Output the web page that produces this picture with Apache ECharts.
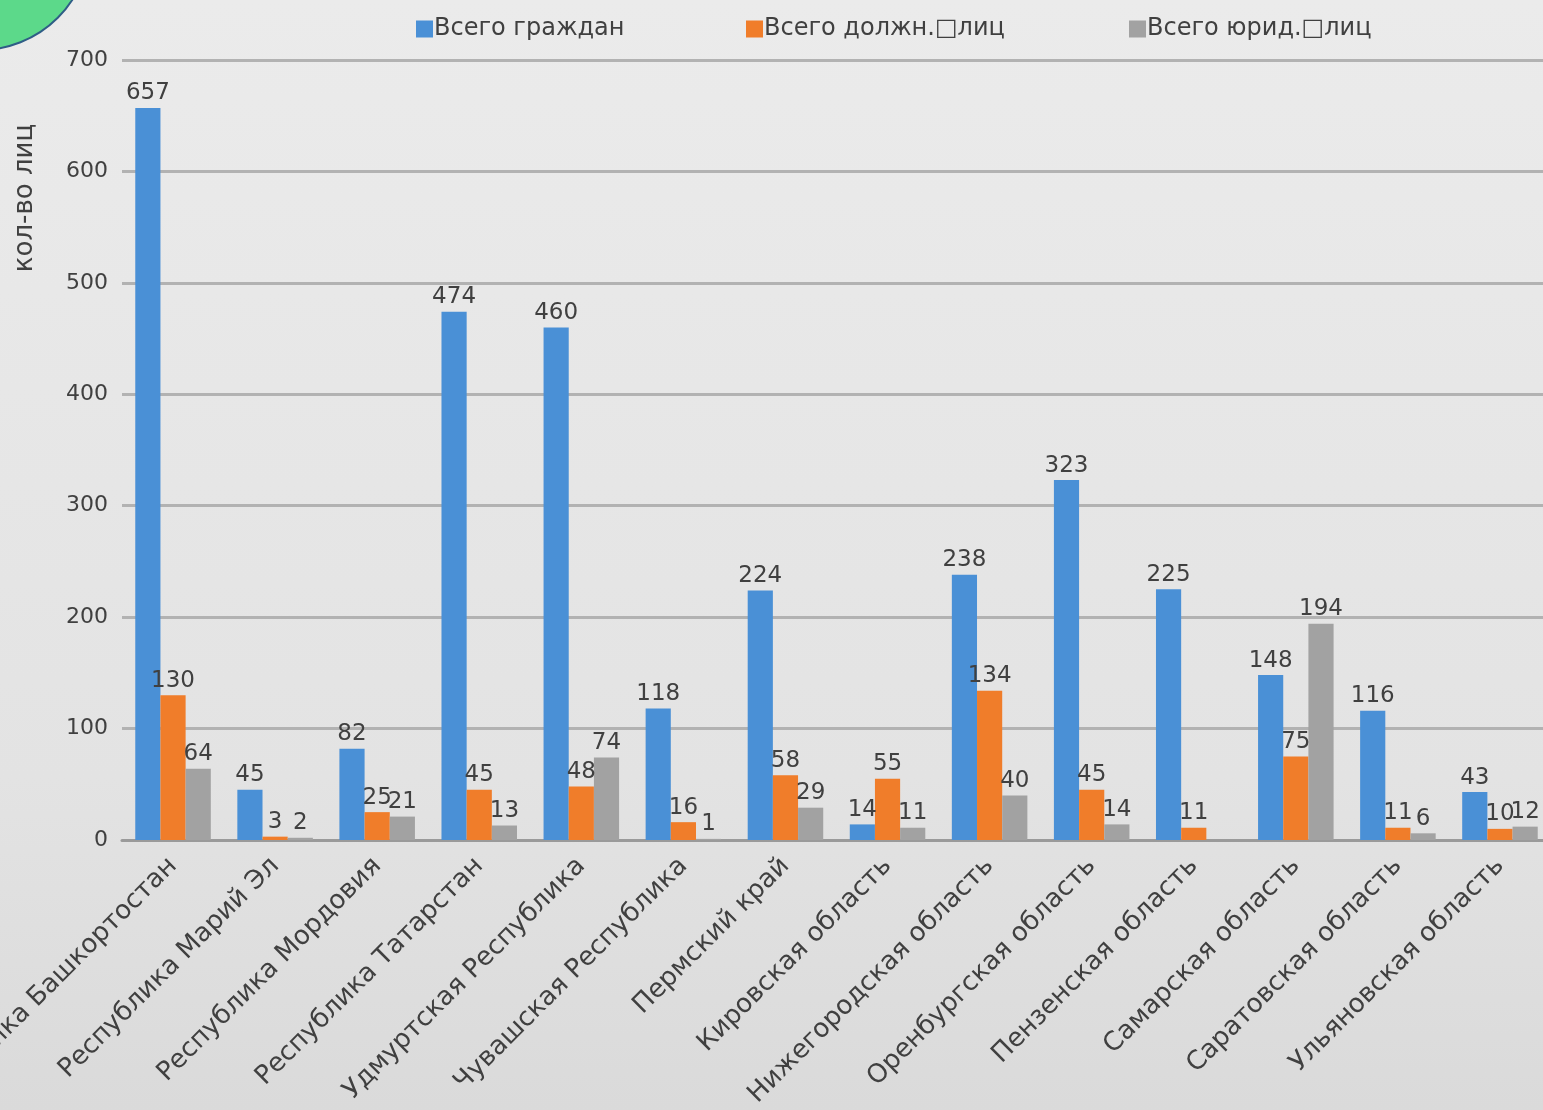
<!DOCTYPE html>
<html lang="ru">
<head>
    <meta charset="UTF-8">
    <title>Обращения по регионам</title>
    <script src="https://cdn.jsdelivr.net/npm/echarts@6/dist/echarts.min.js"></script>
    <style>
        html, body { margin: 0; padding: 0; }
        #main { width: 1543px; height: 1110px; background: linear-gradient(#ebebeb, #e3e3e3 70%, #dadada); }
    </style>
</head>
<body>
<div id="main"></div>
<script type="text/javascript">
    // регионы
    var regions = ['Республика Башкортостан', 'Республика Марий Эл', 'Республика Мордовия', 'Республика Татарстан',
        'Удмуртская Республика', 'Чувашская Республика', 'Пермский край', 'Кировская область',
        'Нижегородская область', 'Оренбургская область', 'Пензенская область', 'Самарская область',
        'Саратовская область', 'Ульяновская область'];
    var seriesNames = ['Всего граждан', 'Всего должн.\u25A1лиц', 'Всего юрид.\u25A1лиц'];
    var citizens  = [657, 45, 82, 474, 460, 118, 224, 14, 238, 323, 225, 148, 116, 43];
    var officials = [130, 3, 25, 45, 48, 16, 58, 55, 134, 45, 11, 75, 11, 10];
    var legal     = [64, 2, 21, 13, 74, 1, 29, 11, 40, 14, null, 194, 6, 12];
    var colors = ['#4a90d6', '#f07d2a', '#a2a2a2'];
    var legendLeft = [411, 741, 1124];

    var textColor = '#404040';
    var fontFam = '"DejaVu Sans", "Noto Sans", sans-serif';

    function makeSeries(name, data, color) {
        return {
            name: name,
            type: 'bar',
            data: data,
            barGap: '0%',
            barCategoryGap: '26%',
            itemStyle: { color: color },
            label: {
                show: true,
                position: 'top',
                distance: 3,
                color: textColor,
                fontSize: 23,
                fontFamily: fontFam
            }
        };
    }

    var legends = [];
    for (var i = 0; i < seriesNames.length; i++) {
        legends.push({
            top: 12,
            left: legendLeft[i],
            itemWidth: 17,
            itemHeight: 17,
            icon: 'rect',
            textStyle: { color: textColor, fontSize: 24, fontFamily: fontFam, padding: [0, 0, 0, -4] },
            data: [seriesNames[i]]
        });
    }

    var myEChart = echarts.init(document.getElementById('main'));
    myEChart.setOption({
        animation: false,
        textStyle: { fontFamily: fontFam },
        graphic: [{
            type: 'circle',
            shape: { cx: -20, cy: -60, r: 110 },
            style: { fill: '#5cd98a', stroke: '#2f5d86', lineWidth: 2 },
            z: 10
        }, {
            type: 'text',
            x: 25,
            y: 198,
            rotation: Math.PI / 2,
            style: {
                text: 'кол-во лиц',
                fill: textColor,
                font: '26px "DejaVu Sans", sans-serif',
                align: 'center',
                verticalAlign: 'middle'
            }
        }],
        legend: legends,
        grid: {
            left: 122,
            top: 60,
            width: 1429,
            bottom: 270,
            outerBoundsMode: 'none',
            containLabel: false
        },
        xAxis: {
            type: 'category',
            data: regions,
            axisTick: { show: false },
            axisLine: { lineStyle: { color: '#9a9a9a', width: 3 } },
            axisLabel: {
                rotate: 45,
                interval: 0,
                margin: 22,
                color: textColor,
                fontSize: 26,
                fontFamily: fontFam
            }
        },
        yAxis: {
            type: 'value',
            min: 0,
            max: 700,
            interval: 100,
            axisLine: { show: false },
            axisTick: { show: false },
            axisLabel: { color: textColor, fontSize: 22, margin: 14, fontFamily: fontFam },
            splitLine: { lineStyle: { color: '#b2b2b2', width: 3 } }
        },
        series: [
            makeSeries(seriesNames[0], citizens, colors[0]),
            makeSeries(seriesNames[1], officials, colors[1]),
            makeSeries(seriesNames[2], legal, colors[2])
        ]
    });
</script>
</body>
</html>
